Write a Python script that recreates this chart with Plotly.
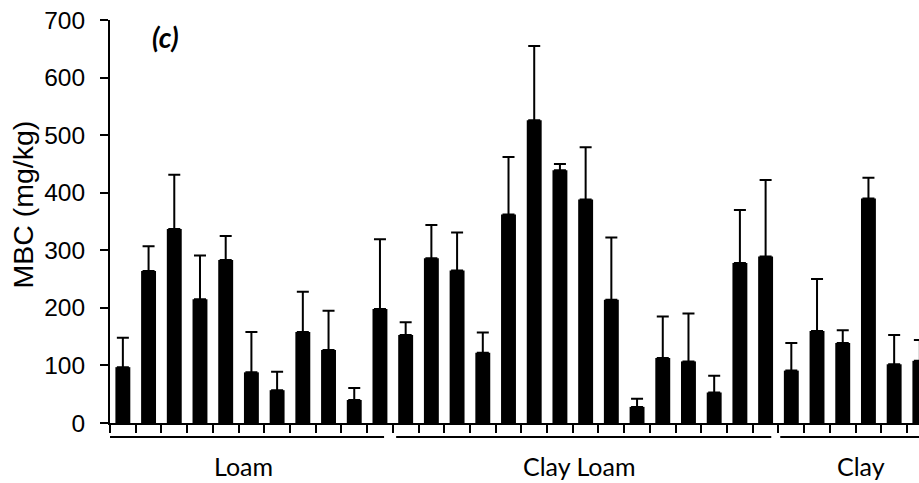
import plotly.graph_objects as go

# ---- data ----
groups = ["Loam", "Clay Loam", "Clay"]
loam = [97, 264, 337, 215, 283, 88, 57, 158, 127, 40, 198]
loam_err_top = [148, 307, 431, 291, 325, 158, 89, 228, 195, 61, 319]
clay_loam = [153, 286, 265, 122, 362, 526, 439, 388, 214, 28, 113, 107, 53, 278, 289]
clay_loam_err_top = [175, 344, 331, 157, 462, 655, 450, 479, 322, 42, 185, 190, 82, 370, 422]
clay = [91, 160, 139, 390, 102, 108]
clay_err_top = [139, 250, 161, 426, 153, 144]
y_ticks = [0, 100, 200, 300, 400, 500, 600, 700]

series = [loam, clay_loam, clay]
err_tops = [loam_err_top, clay_loam_err_top, clay_err_top]

cats, vals, errs = [], [], []
for g, v, e in zip(groups, series, err_tops):
    for i, (a, b) in enumerate(zip(v, e)):
        cats.append(f"{g} {i+1}")
        vals.append(a)
        errs.append(b - a)

fig = go.Figure(go.Bar(
    x=cats, y=vals,
    marker=dict(color="black", line=dict(width=0)),
    error_y=dict(type="data", symmetric=False, array=errs,
                 arrayminus=[0] * len(errs), color="black",
                 thickness=2, width=6),
    hoverinfo="x+y",
))

W, H = 919, 483
ml, mr, mt, mb = 110, 0, 20, 60
pw = W - ml - mr
ph = H - mt - mb
cat_px = 25.71
x_end = pw / cat_px - 0.5

fig.update_layout(
    width=W, height=H,
    margin=dict(l=ml, r=mr, t=mt, b=mb),
    paper_bgcolor="white", plot_bgcolor="white",
    bargap=0.42, showlegend=False,
    xaxis=dict(type="category", categoryorder="array", categoryarray=cats,
               range=[-0.5, x_end], tickson="boundaries", ticks="outside",
               ticklen=8, tickwidth=1.5, tickcolor="black",
               showticklabels=False, showline=True, linecolor="black",
               linewidth=2, showgrid=False, zeroline=False),
    yaxis=dict(range=[0, 700], tickvals=y_ticks, ticks="outside", ticklen=8,
               tickwidth=1.5, tickcolor="black", showline=True,
               linecolor="black", linewidth=2, showgrid=False, zeroline=False,
               tickfont=dict(family="Liberation Sans", size=24.5, color="black"),
               ticklabelstandoff=10),
)

# group underlines and labels
line_y = -(437 - (mt + ph)) / ph
label_y = -(466 - (mt + ph)) / ph
seg = [(-0.5, 10.16), (10.63, 25.22), (25.57, x_end)]
for g, (x0, x1) in zip(groups, seg):
    fig.add_shape(type="line", xref="x", yref="paper", x0=x0, x1=x1,
                  y0=line_y, y1=line_y, line=dict(color="black", width=2))
    cx = 28.7 if g == "Clay" else (x0 + x1) / 2 - 0.15
    fig.add_annotation(x=cx, y=label_y, xref="x", yref="paper", text=g,
                       showarrow=False, xanchor="center", yanchor="middle",
                       font=dict(family="Lato", size=25, color="black"))

fig.add_annotation(x=(165 - ml) / pw, y=(mt + ph - 36.5) / ph, xref="paper",
                   yref="paper", text="<b><i>(c)</i></b>", showarrow=False,
                   xanchor="center", yanchor="middle",
                   font=dict(family="Lato", size=28, color="black"))

fig.add_annotation(x=(22.5 - ml) / pw, y=(mt + ph - 205) / ph, xref="paper",
                   yref="paper", text="MBC (mg/kg)", textangle=-90,
                   showarrow=False, xanchor="center", yanchor="middle",
                   font=dict(family="Liberation Sans", size=28.5, color="black"))

fig.write_html("out.html", config={"displayModeBar": False},
               post_script="document.body.style.margin='0';document.body.style.overflow='hidden';")
